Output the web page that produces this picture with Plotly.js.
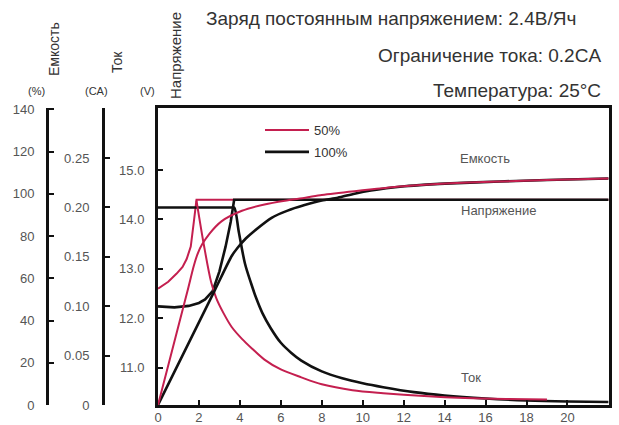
<!DOCTYPE html>
<html>
<head>
<meta charset="utf-8">
<script src="https://cdn.plot.ly/plotly-3.0.1.min.js"></script>
<style>html,body{margin:0;padding:0;background:#fff}#chart{width:619px;height:425px}</style>
</head>
<body>
<div id="chart"></div>
<script>
// ---- data (hours on x) ----
var xTicks = [0, 2, 4, 6, 8, 10, 12, 14, 16, 18, 20];
var capTicks = [0, 20, 40, 60, 80, 100, 120, 140];
var curTicks = [0, 0.05, 0.10, 0.15, 0.20, 0.25, 0.30];
var curTickText = ['0', '0.05', '0.10', '0.15', '0.20', '0.25', ''];
var voltTicks = [11, 12, 13, 14, 15];
var voltTickText = ['11.0', '12.0', '13.0', '14.0', '15.0'];

// 50% discharged battery (red)
var v50_t = [0, 0.5, 0.9, 1.2, 1.4, 1.6, 1.75, 1.88, 22];
var v50   = [12.6, 12.74, 12.9, 13.04, 13.2, 13.45, 13.95, 14.4, 14.4];
var i50_t = [1.88, 2.25, 2.6, 2.85, 3.2, 3.6, 4.1, 4.6, 5.2, 6.0, 7.0, 8.0, 9.5, 11, 13, 15, 17, 19];
var i50   = [0.207, 0.161, 0.124, 0.108, 0.093, 0.079, 0.067, 0.057, 0.046, 0.036, 0.028, 0.021, 0.015, 0.012, 0.009, 0.007, 0.006, 0.0055];
var c50_t = [0, 1.44, 1.75, 1.95, 2.15, 2.5, 3.1, 4.1, 5.2, 6.2, 7.2, 8.0, 9.6, 12, 14.3, 16.7, 19, 22];
var c50   = [0, 54, 66, 72, 76, 81, 87, 92, 95, 96.8, 98.2, 99.5, 101.3, 103.6, 105, 105.9, 106.6, 107.3];

// 100% discharged battery (black)
var v100_t = [0, 0.8, 1.5, 2.0, 2.3, 2.67, 3.0, 3.3, 3.55, 3.72, 22];
var v100   = [12.24, 12.22, 12.25, 12.31, 12.38, 12.55, 12.95, 13.45, 13.95, 14.4, 14.4];
var i100_t = [0, 1.5, 3.0, 3.6, 3.72, 3.95, 4.25, 4.55, 4.8, 5.1, 5.5, 6.0, 6.5, 7.0, 8.0, 9.0, 10, 11, 12.5, 14, 16, 18, 20, 22];
var i100   = [0.2, 0.2, 0.2, 0.2, 0.2, 0.175, 0.143, 0.123, 0.108, 0.093, 0.078, 0.063, 0.053, 0.045, 0.034, 0.027, 0.022, 0.018, 0.013, 0.0096, 0.0066, 0.0046, 0.0035, 0.003];
var c100_t = [0, 2.76, 3.6, 3.89, 4.3, 4.72, 5.55, 6.33, 7.16, 8.0, 8.78, 9.6, 10.4, 12.05, 13.1, 14.3, 16.7, 19, 22];
var c100   = [0, 54.1, 70.6, 74.5, 79, 82.6, 88.7, 92.1, 94.7, 96.9, 98.2, 100.1, 101.6, 103.6, 104.4, 105, 105.9, 106.6, 107.3];

var RED = '#c41f4f', BLK = '#111111';
var FONT = 'Liberation Sans, Arial, sans-serif';

var traces = [
  {x: v50_t, y: v50, yaxis: 'y', mode: 'lines', line: {color: RED, width: 2}, name: '50%', legendgroup: 'a', showlegend: true},
  {x: v100_t, y: v100, yaxis: 'y', mode: 'lines', line: {color: BLK, width: 2.6}, name: '100%', legendgroup: 'b', showlegend: true},
  {x: i100_t, y: i100, yaxis: 'y2', mode: 'lines', line: {color: BLK, width: 2.6, shape: 'spline', smoothing: 0.9}, showlegend: false},
  {x: c100_t, y: c100, yaxis: 'y3', mode: 'lines', line: {color: BLK, width: 2.6, shape: 'spline', smoothing: 0.7}, showlegend: false},
  {x: c50_t, y: c50, yaxis: 'y3', mode: 'lines', line: {color: RED, width: 2, shape: 'spline', smoothing: 0.7}, showlegend: false},
  {x: i50_t, y: i50, yaxis: 'y2', mode: 'lines', line: {color: RED, width: 2, shape: 'spline', smoothing: 0.9}, showlegend: false}
];

var W = 609, T = 108, B = 405, H = B - T;
function px(x) { return x / W; }
function py(y) { return (B - y) / H; }

var axisBase = {
  showgrid: false, zeroline: false, showline: true, linecolor: BLK, linewidth: 3,
  ticks: 'inside', ticklen: 5, tickwidth: 2, tickcolor: BLK,
  tickfont: {family: FONT, size: 13, color: '#555'}, fixedrange: true
};

function ann(text, x, y, size, opts) {
  var a = {text: text, x: px(x), y: py(y), xref: 'paper', yref: 'paper', showarrow: false,
    xanchor: 'center', yanchor: 'middle', font: {family: FONT, size: size, color: '#333'}};
  for (var k in (opts || {})) a[k] = opts[k];
  return a;
}

var layout = {
  width: 619, height: 425,
  margin: {l: 0, r: 10, t: T, b: 425 - B},
  paper_bgcolor: '#fff', plot_bgcolor: '#fff',
  font: {family: FONT},
  showlegend: true,
  legend: {x: px(260), y: py(115), xanchor: 'left', yanchor: 'top', bgcolor: 'rgba(0,0,0,0)',
    font: {family: FONT, size: 13, color: '#333'}, tracegroupgap: 2, itemwidth: 44},
  xaxis: Object.assign({}, axisBase, {domain: [px(158), 1], range: [0, 22.03], tickvals: xTicks, mirror: true, ticklabelstandoff: -2}),
  yaxis: Object.assign({}, axisBase, {range: [10.243, 16.258], tickvals: voltTicks, ticktext: voltTickText, mirror: true, ticklabelstandoff: 8}),
  yaxis2: Object.assign({}, axisBase, {overlaying: 'y', anchor: 'free', position: px(103), side: 'left', range: [0, 0.3007], tickvals: curTicks, ticktext: curTickText, ticklabelstandoff: 10}),
  yaxis3: Object.assign({}, axisBase, {overlaying: 'y', anchor: 'free', position: px(47), side: 'left', range: [0, 140.7], tickvals: capTicks, ticklabelstandoff: 9}),
  annotations: [
    ann('Заряд постоянным напряжением: 2.4В/Яч', 578, 18, 19, {xanchor: 'right'}),
    ann('Ограничение тока: 0.2CA', 603, 55, 19, {xanchor: 'right'}),
    ann('Температура: 25°C', 603, 90, 19, {xanchor: 'right'}),
    ann('Емкость', 54, 49, 14, {textangle: -90}),
    ann('Ток', 117, 62, 14, {textangle: -90}),
    ann('Напряжение', 176, 56, 15, {textangle: -90}),
    ann('(%)', 36, 91, 11),
    ann('(CA)', 96, 91, 11),
    ann('(V)', 147, 91, 11),
    ann('Емкость', 485, 158, 13, {font: {family: FONT, size: 13, color: '#555'}}),
    ann('Напряжение', 498, 210, 13, {font: {family: FONT, size: 13, color: '#555'}}),
    ann('Ток', 471, 377, 13, {font: {family: FONT, size: 13, color: '#555'}})
  ]
};

Plotly.newPlot('chart', traces, layout, {displayModeBar: false, staticPlot: true});
</script>
</body>
</html>
